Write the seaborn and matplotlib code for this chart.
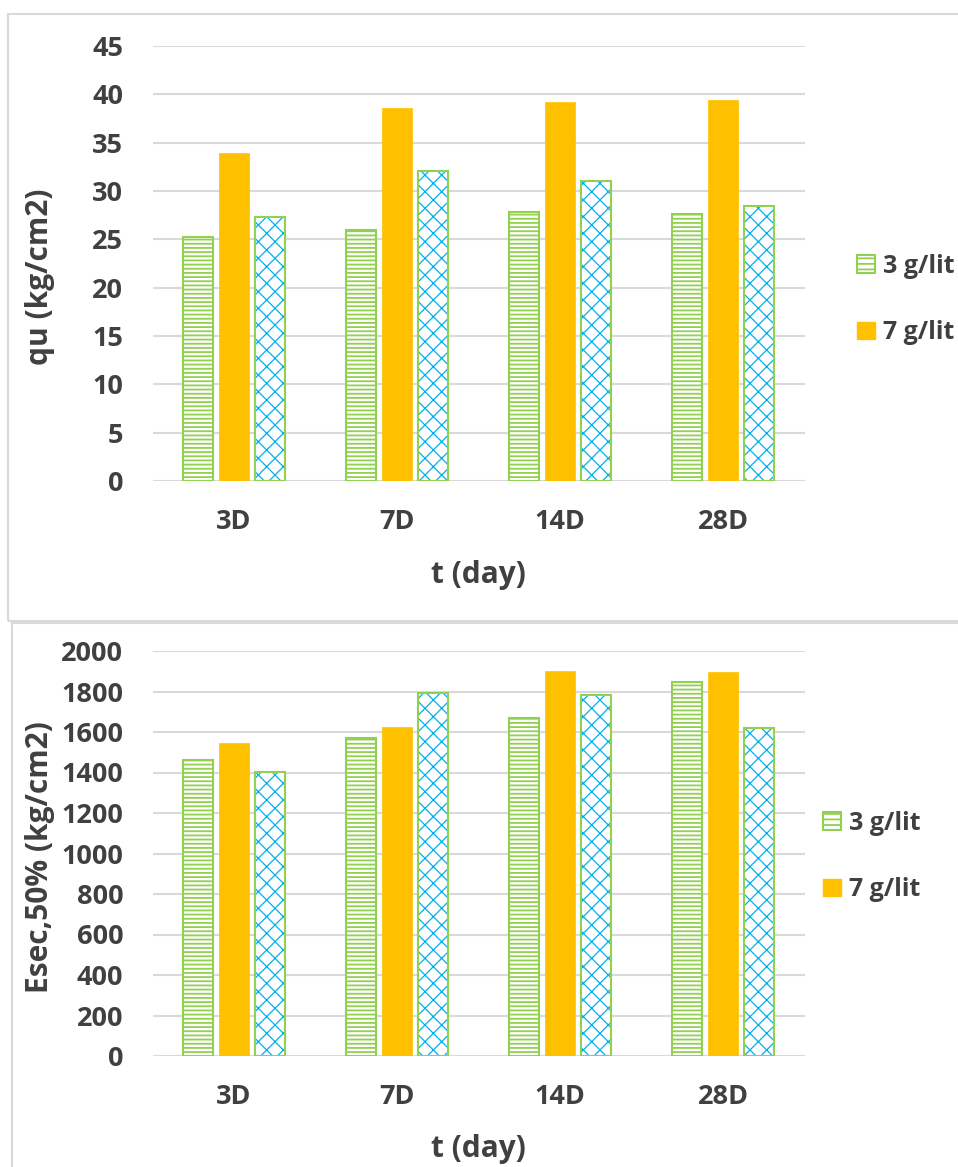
import matplotlib
matplotlib.use("Agg")
import matplotlib.pyplot as plt
from matplotlib.patches import Patch, Rectangle
import pandas as pd
import seaborn as sns

# data
days = ["3D", "7D", "14D", "28D"]
series = ["3 g/lit", "7 g/lit", "10 g/lit"]
qu_3g = [25.2, 26.0, 27.8, 27.6]
qu_7g = [33.9, 38.6, 39.2, 39.4]
qu_10g = [27.3, 32.1, 31.0, 28.4]
esec_3g = [1462, 1568, 1670, 1845]
esec_7g = [1545, 1623, 1900, 1895]
esec_10g = [1402, 1795, 1785, 1620]

GREEN = "#92D050"
ORANGE = "#FFC000"
BLUE = "#00B0F0"
TEXT = "#404040"
GRID = "#D9D9D9"

sns.set_theme(style="white")
plt.rcParams["font.family"] = ["Open Sans", "DejaVu Sans"]
plt.rcParams["font.weight"] = "bold"
plt.rcParams["hatch.linewidth"] = 1.3


def make_frame(a, b, c):
    rows = []
    for name, vals in zip(series, [a, b, c]):
        for d, v in zip(days, vals):
            rows.append({"day": d, "series": name, "value": v})
    return pd.DataFrame(rows)


def style_bars(ax):
    green, orange, blue = ax.containers
    for p in green:
        p.set_facecolor("white")
        p.set_edgecolor(GREEN)
        p.set_hatch("----")
        p.set_linewidth(1.5)
    for p in orange:
        p.set_facecolor(ORANGE)
        p.set_edgecolor(ORANGE)
        p.set_linewidth(0.5)
    for p in blue:
        p.set_facecolor("white")
        p.set_edgecolor(BLUE)
        p.set_hatch("xx")
        p.set_linewidth(0)
        if hasattr(p, "set_hatch_linewidth"):
            p.set_hatch_linewidth(0.9)
        # green outline drawn on top of the blue hatch
        ax.add_patch(Rectangle(p.get_xy(), p.get_width(), p.get_height(),
                               facecolor="none", edgecolor=GREEN, linewidth=1.5, zorder=p.get_zorder() + 0.1))


def style_axes(ax, ymax, step, ylabel, ylab_y, xlab_y):
    ax.set_ylim(0, ymax)
    ax.set_xlim(-0.5, 3.5)
    ax.set_yticks(range(0, ymax + 1, step))
    ax.yaxis.grid(True, color=GRID, linewidth=1.5)
    ax.set_axisbelow(True)
    for s in ax.spines.values():
        s.set_visible(False)
    ax.tick_params(axis="y", length=0, pad=21, labelsize=19.5, labelcolor=TEXT)
    ax.tick_params(axis="x", length=0, pad=20, labelsize=19.5, labelcolor=TEXT)
    for t in ax.get_xticklabels() + ax.get_yticklabels():
        t.set_fontweight("bold")
    ax.set_xlabel("t (day)", fontsize=21.5, fontweight="bold", color=TEXT, va="center")
    ax.xaxis.set_label_coords(0.5, xlab_y)
    ax.set_ylabel(ylabel, fontsize=21.5, fontweight="bold", color=TEXT, va="center")
    ax.yaxis.set_label_coords(-0.173, ylab_y)


def add_legend(fig, x, y):
    handles = [
        Patch(facecolor="white", edgecolor=GREEN, hatch="---", linewidth=1.5, label=series[0]),
        Patch(facecolor=ORANGE, edgecolor=ORANGE, label=series[1]),
    ]
    leg = fig.legend(handles=handles, loc="center left", bbox_to_anchor=(x, y),
                     frameon=False, fontsize=18, labelspacing=1.65, handlelength=0.7,
                     handleheight=0.7, handletextpad=0.35, borderpad=0, borderaxespad=0)
    for t in leg.get_texts():
        t.set_color(TEXT)
        t.set_fontweight("bold")


fig = plt.figure(figsize=(9.58, 11.67), dpi=100)
W, H = 958.0, 1167.0

# panel frames like in the source document
fig.add_artist(Rectangle((8 / W, 1 - 621 / H), 1.0, (621 - 14) / H, transform=fig.transFigure,
                         facecolor="none", edgecolor="#D9D9D9", linewidth=1.5))
fig.add_artist(Rectangle((12 / W, -0.01), 1.0, (1 - 623 / H) + 0.01, transform=fig.transFigure,
                         facecolor="none", edgecolor="#D9D9D9", linewidth=1.5))

left = 152.5 / W
width = (804.5 - 152.5) / W
ax1 = fig.add_axes([left, 1 - 481 / H, width, (481 - 46) / H])
ax2 = fig.add_axes([left, 1 - 1056 / H, width, (1056 - 651) / H])

df_qu = make_frame(qu_3g, qu_7g, qu_10g)
df_es = make_frame(esec_3g, esec_7g, esec_10g)

for ax, df in [(ax1, df_qu), (ax2, df_es)]:
    sns.barplot(data=df, x="day", y="value", hue="series", order=days, hue_order=series,
                width=0.663, gap=0.18, legend=False, ax=ax, errorbar=None)
    style_bars(ax)

style_axes(ax1, 45, 5, "qu (kg/cm2)", 0.47, -0.215)
style_axes(ax2, 2000, 200, "Esec,50% (kg/cm2)", 0.49, -0.23)

add_legend(fig, 857 / W, 1 - 299.5 / H)
add_legend(fig, 823 / W, 1 - 856.5 / H)

fig.savefig("out.png", dpi=100)
